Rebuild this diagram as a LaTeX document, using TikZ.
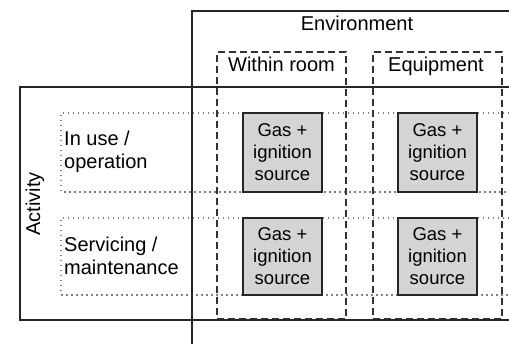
\documentclass[tikz,border=0pt]{standalone}
\usepackage{fontspec}
\setmainfont{Liberation Sans}
\begin{document}
\begin{tikzpicture}[x=1pt,y=-1pt,
  frame/.style={draw=black!85, line width=1.8pt},
  colbox/.style={draw=black!80, line width=1.4pt, dash pattern=on 7pt off 4pt, minimum width=129pt, minimum height=267pt, inner sep=0pt},
  rowline/.style={draw=black!50, line width=1.5pt, dash pattern=on 1.5pt off 3.5pt},
  gasbox/.style={draw=black!85, line width=1.5pt, fill=black!17, minimum width=79pt, inner sep=0pt, align=center, font=\fontsize{18.5}{22}\selectfont},
  lbl/.style={inner sep=0pt, font=\fontsize{20}{23}\selectfont},
  rowlbl/.style={inner sep=0pt, align=left, anchor=west, font=\fontsize{20}{23}\selectfont}]
\useasboundingbox (0,0) rectangle (509,344);
% dotted activity rows
\draw[rowline] (509,113) -- (61,113) -- (61,192) -- (509,192);
\draw[rowline] (509,218) -- (61,218) -- (61,295) -- (509,295);
% dashed environment columns
\node[colbox] (within) at (281.5,185.5) {};
\node[colbox] (equip) at (437.5,185.5) {};
% frames
\draw[frame] (192,344) -- (192,11) -- (509,11);
\draw[frame] (509,87) -- (20,87) -- (20,320) -- (509,320);
% labels
\node[lbl, anchor=base] (env) at (357,31) {Environment};
\node[lbl, anchor=base] (wr) at (281.5,72) {Within room};
\node[lbl, anchor=base] (eq) at (436,72) {Equipment};
\node[lbl, rotate=90] (act) at (35,204) {Activity};
\node[rowlbl] (use) at (64,152) {In use /\\operation};
\node[rowlbl] (serv) at (64,256) {Servicing /\\maintenance};
% gas boxes
\node[gasbox, minimum height=79pt] (g11) at (282.5,152.5) {Gas +\\ignition\\source};
\node[gasbox, minimum height=79pt] (g12) at (437.5,152.5) {Gas +\\ignition\\source};
\node[gasbox, minimum height=77pt] (g21) at (282.5,256.5) {Gas +\\ignition\\source};
\node[gasbox, minimum height=77pt] (g22) at (437.5,256.5) {Gas +\\ignition\\source};
\end{tikzpicture}
\end{document}
